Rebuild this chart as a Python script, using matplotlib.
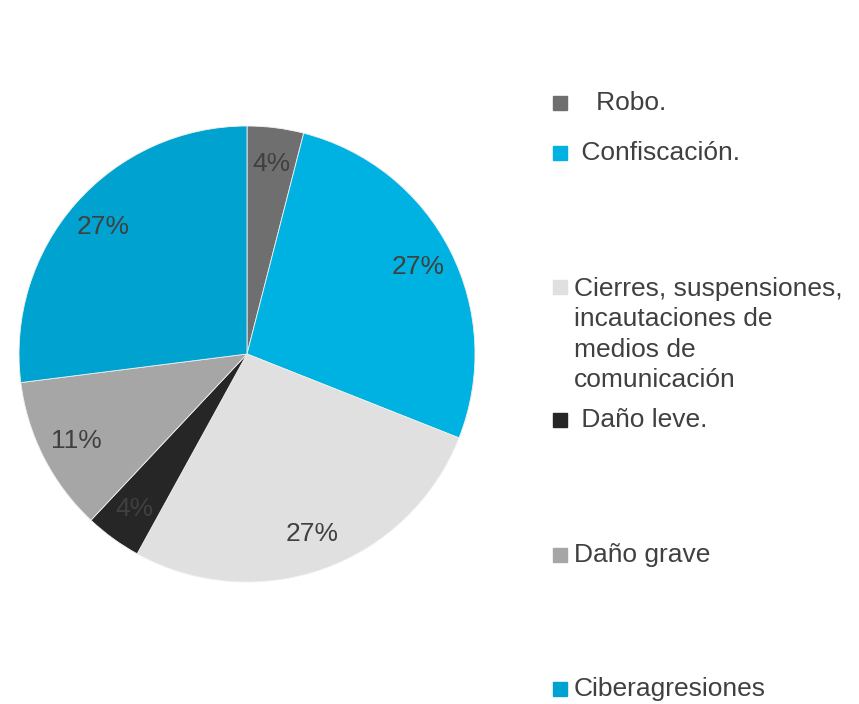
import matplotlib.pyplot as plt
from matplotlib.patches import Rectangle

plt.rcParams['font.family'] = ['Liberation Sans', 'DejaVu Sans']

categories = ["   Robo.", " Confiscación.",
              "Cierres, suspensiones,\nincautaciones de\nmedios de\ncomunicación",
              " Daño leve.", "Daño grave", "Ciberagresiones"]
values = [4, 27, 27, 4, 11, 27]
colors = ["#6f6f6f", "#00b2e1", "#e0e0e0", "#262626", "#a6a6a6", "#00a3cf"]
text_color = "#404040"

W, H = 859, 704
fig = plt.figure(figsize=(W / 100, H / 100), dpi=100)

# pie centred at (247, 354) px, radius 228 px
cx, cy, r = 247, 354, 228
ax = fig.add_axes([(cx - r) / W, (H - cy - r) / H, 2 * r / W, 2 * r / H])
wedges, _, autotexts = ax.pie(
    values, colors=colors, startangle=90, counterclock=False,
    autopct='%1.0f%%', pctdistance=0.84, radius=1,
    wedgeprops=dict(linewidth=0.6, edgecolor="#f0f0f0"),
    textprops=dict(color=text_color, fontsize=19),
)
ax.set_xlim(-1, 1)
ax.set_ylim(-1, 1)
ax.set_aspect('equal')
ax.axis('off')

# legend drawn by hand (Excel-like irregular spacing)
legend_y = [103, 153, 287, 420, 555, 689]
for label, color, y in zip(categories, colors, legend_y):
    fig.patches.append(Rectangle((553 / W, (H - y - 7) / H), 14 / W, 14 / H,
                                 transform=fig.transFigure, color=color))
    if '\n' in label:
        fig.text(574 / W, (H - y + 10) / H, label, fontsize=19, color=text_color,
                 va='top', ha='left', linespacing=1.34)
    else:
        fig.text(574 / W, (H - y) / H, label, fontsize=19, color=text_color,
                 va='center', ha='left')

fig.savefig("out.png", dpi=100)
